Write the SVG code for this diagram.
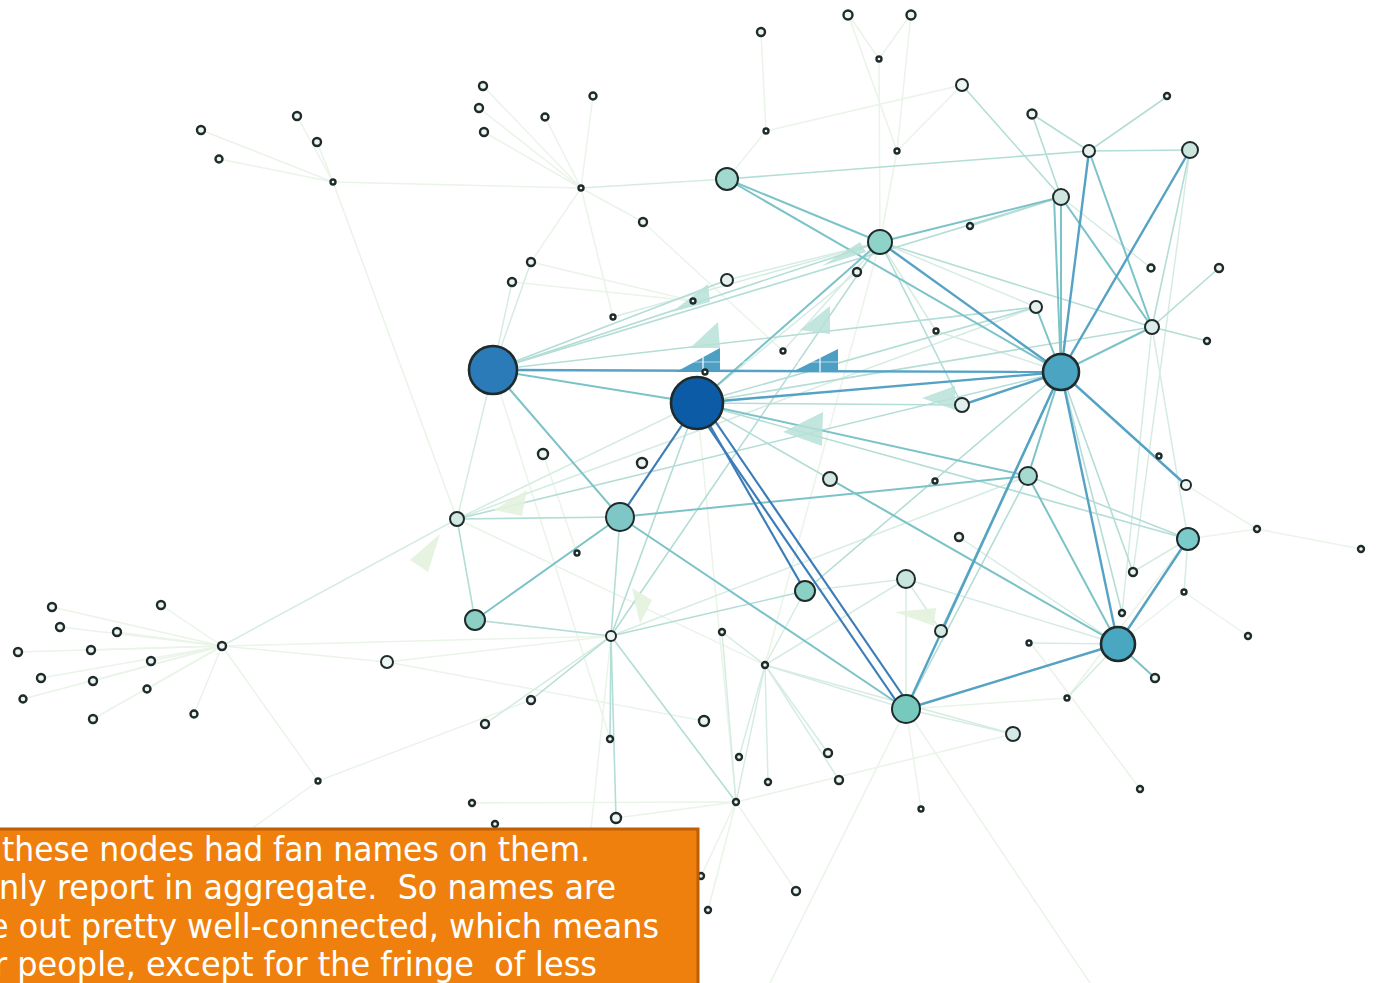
<svg xmlns="http://www.w3.org/2000/svg" width="1378" height="983" viewBox="0 0 1378 983">
<style>
.s1{stroke:#3c7db8;stroke-width:2.2;fill:none}
.s2{stroke:#55a2c4;stroke-width:2.4;fill:none}
.s3{stroke:#7cc3c8;stroke-width:2;fill:none}
.s4{stroke:#b3ddd6;stroke-width:1.6;fill:none}
.s5{stroke:#d6ece3;stroke-width:1.5;fill:none}
.s6{stroke:#eaf4e8;stroke-width:1.5;fill:none}
.ar1{fill:#b7e1d7;opacity:.85}
.ar2{fill:#4d9fc4}
.ar3{fill:#e2f2dd;opacity:.9}
.nd circle{stroke:#1f2b2b;stroke-width:2}
.nd circle.sm{fill:#eef6f4;stroke-width:2.4}
.nd circle.big{stroke-width:2.6}
.txt{fill:#ffffff;font-family:"DejaVu Sans Condensed","DejaVu Sans",Verdana,sans-serif;font-size:33px;white-space:pre}
</style>
<rect x="0" y="0" width="1378" height="983" fill="#ffffff"/>
<g id="connectors">
<line class="s6" x1="333" y1="182" x2="201" y2="130"/>
<line class="s6" x1="333" y1="182" x2="219" y2="159"/>
<line class="s6" x1="333" y1="182" x2="297" y2="116"/>
<line class="s6" x1="333" y1="182" x2="317" y2="142"/>
<line class="s6" x1="333" y1="182" x2="581" y2="188"/>
<line class="s6" x1="333" y1="182" x2="457" y2="519"/>
<line class="s6" x1="581" y1="188" x2="483" y2="86"/>
<line class="s6" x1="581" y1="188" x2="479" y2="108"/>
<line class="s6" x1="581" y1="188" x2="484" y2="132"/>
<line class="s6" x1="581" y1="188" x2="545" y2="117"/>
<line class="s6" x1="581" y1="188" x2="593" y2="96"/>
<line class="s6" x1="581" y1="188" x2="643" y2="222"/>
<line class="s6" x1="581" y1="188" x2="613" y2="317"/>
<line class="s6" x1="581" y1="188" x2="531" y2="262"/>
<line class="s5" x1="581" y1="188" x2="727" y2="179"/>
<line class="s6" x1="531" y1="262" x2="693" y2="301"/>
<line class="s6" x1="512" y1="282" x2="693" y2="301"/>
<line class="s6" x1="643" y1="222" x2="783" y2="351"/>
<line class="s6" x1="761" y1="33" x2="766" y2="131"/>
<line class="s6" x1="766" y1="131" x2="962" y2="85"/>
<line class="s6" x1="766" y1="131" x2="727" y2="179"/>
<line class="s6" x1="848" y1="14" x2="879" y2="59"/>
<line class="s6" x1="911" y1="14" x2="879" y2="59"/>
<line class="s6" x1="879" y1="59" x2="880" y2="242"/>
<line class="s6" x1="848" y1="14" x2="897" y2="151"/>
<line class="s6" x1="911" y1="14" x2="897" y2="151"/>
<line class="s6" x1="897" y1="151" x2="962" y2="85"/>
<line class="s6" x1="897" y1="151" x2="880" y2="242"/>
<line class="s6" x1="222" y1="646" x2="52" y2="607"/>
<line class="s6" x1="222" y1="646" x2="60" y2="627"/>
<line class="s6" x1="222" y1="646" x2="117" y2="632"/>
<line class="s6" x1="222" y1="646" x2="161" y2="605"/>
<line class="s6" x1="222" y1="646" x2="18" y2="652"/>
<line class="s6" x1="222" y1="646" x2="91" y2="650"/>
<line class="s6" x1="222" y1="646" x2="151" y2="661"/>
<line class="s6" x1="222" y1="646" x2="41" y2="678"/>
<line class="s6" x1="222" y1="646" x2="93" y2="681"/>
<line class="s6" x1="222" y1="646" x2="147" y2="689"/>
<line class="s6" x1="222" y1="646" x2="23" y2="699"/>
<line class="s6" x1="222" y1="646" x2="93" y2="719"/>
<line class="s6" x1="222" y1="646" x2="194" y2="714"/>
<line class="s6" x1="222" y1="646" x2="387" y2="662"/>
<line class="s6" x1="222" y1="646" x2="318" y2="781"/>
<line class="s5" x1="222" y1="646" x2="457" y2="519"/>
<line class="s6" x1="222" y1="646" x2="611" y2="636"/>
<line class="s6" x1="318" y1="781" x2="531" y2="700"/>
<line class="s6" x1="318" y1="781" x2="250" y2="830"/>
<line class="s6" x1="387" y1="662" x2="611" y2="636"/>
<line class="s6" x1="387" y1="662" x2="704" y2="721"/>
<line class="s6" x1="736" y1="802" x2="796" y2="891"/>
<line class="s6" x1="736" y1="802" x2="708" y2="910"/>
<line class="s6" x1="736" y1="802" x2="701" y2="876"/>
<line class="s6" x1="736" y1="802" x2="616" y2="818"/>
<line class="s6" x1="736" y1="802" x2="1013" y2="734"/>
<line class="s6" x1="736" y1="802" x2="472" y2="803"/>
<line class="s6" x1="906" y1="709" x2="1090" y2="983"/>
<line class="s6" x1="906" y1="709" x2="770" y2="983"/>
<line class="s6" x1="906" y1="709" x2="921" y2="809"/>
<line class="s6" x1="616" y1="818" x2="585" y2="983"/>
<line class="s6" x1="611" y1="636" x2="575" y2="983"/>
<line class="s6" x1="1030" y1="642" x2="1140" y2="789"/>
<line class="s6" x1="1067" y1="698" x2="906" y2="709"/>
<line class="s6" x1="1186" y1="485" x2="1257" y2="529"/>
<line class="s6" x1="1188" y1="539" x2="1257" y2="529"/>
<line class="s6" x1="1257" y1="529" x2="1361" y2="549"/>
<line class="s6" x1="1184" y1="592" x2="1248" y2="636"/>
<line class="s6" x1="1184" y1="592" x2="1118" y2="644"/>
<line class="s6" x1="1188" y1="539" x2="1067" y2="698"/>
<line class="s6" x1="485" y1="724" x2="611" y2="636"/>
<line class="s6" x1="457" y1="519" x2="765" y2="665"/>
<line class="s6" x1="543" y1="454" x2="577" y2="553"/>
<line class="s6" x1="493" y1="370" x2="610" y2="739"/>
<line class="s6" x1="697" y1="403" x2="736" y2="802"/>
<line class="s6" x1="880" y1="242" x2="765" y2="665"/>
<line class="s6" x1="1061" y1="372" x2="906" y2="709"/>
<line class="s5" x1="531" y1="262" x2="493" y2="370"/>
<line class="s5" x1="512" y1="282" x2="493" y2="370"/>
<line class="s5" x1="613" y1="317" x2="880" y2="242"/>
<line class="s5" x1="783" y1="351" x2="880" y2="242"/>
<line class="s5" x1="857" y1="272" x2="697" y2="403"/>
<line class="s5" x1="936" y1="331" x2="880" y2="242"/>
<line class="s5" x1="936" y1="331" x2="1061" y2="372"/>
<line class="s5" x1="727" y1="280" x2="880" y2="242"/>
<line class="s5" x1="457" y1="519" x2="493" y2="370"/>
<line class="s5" x1="457" y1="519" x2="697" y2="403"/>
<line class="s5" x1="457" y1="519" x2="1036" y2="307"/>
<line class="s5" x1="611" y1="636" x2="1028" y2="476"/>
<line class="s5" x1="611" y1="636" x2="485" y2="724"/>
<line class="s5" x1="805" y1="591" x2="906" y2="579"/>
<line class="s5" x1="906" y1="709" x2="906" y2="579"/>
<line class="s5" x1="906" y1="709" x2="765" y2="665"/>
<line class="s5" x1="906" y1="709" x2="1013" y2="734"/>
<line class="s5" x1="941" y1="631" x2="906" y2="579"/>
<line class="s5" x1="1118" y1="644" x2="1029" y2="643"/>
<line class="s5" x1="1118" y1="644" x2="1067" y2="698"/>
<line class="s5" x1="1118" y1="644" x2="959" y2="537"/>
<line class="s5" x1="1118" y1="644" x2="906" y2="579"/>
<line class="s5" x1="765" y1="665" x2="722" y2="632"/>
<line class="s5" x1="765" y1="665" x2="739" y2="757"/>
<line class="s5" x1="765" y1="665" x2="768" y2="782"/>
<line class="s5" x1="765" y1="665" x2="828" y2="753"/>
<line class="s5" x1="765" y1="665" x2="839" y2="780"/>
<line class="s5" x1="765" y1="665" x2="736" y2="802"/>
<line class="s5" x1="765" y1="665" x2="805" y2="591"/>
<line class="s5" x1="765" y1="665" x2="906" y2="579"/>
<line class="s5" x1="765" y1="665" x2="1013" y2="734"/>
<line class="s5" x1="722" y1="632" x2="736" y2="802"/>
<line class="s5" x1="1190" y1="150" x2="1133" y2="572"/>
<line class="s5" x1="1152" y1="327" x2="1122" y2="613"/>
<line class="s5" x1="1188" y1="539" x2="1133" y2="572"/>
<line class="s5" x1="1151" y1="268" x2="1061" y2="197"/>
<line class="s5" x1="1152" y1="327" x2="1061" y2="197"/>
<line class="s5" x1="1188" y1="539" x2="1184" y2="592"/>
<line class="s5" x1="1152" y1="327" x2="1188" y2="539"/>
<line class="s5" x1="880" y1="242" x2="1036" y2="307"/>
<line class="s4" x1="493" y1="370" x2="880" y2="242"/>
<line class="s4" x1="493" y1="370" x2="1061" y2="197"/>
<line class="s4" x1="493" y1="370" x2="1036" y2="307"/>
<line class="s4" x1="493" y1="370" x2="727" y2="280"/>
<line class="s4" x1="697" y1="403" x2="1036" y2="307"/>
<line class="s4" x1="697" y1="403" x2="1152" y2="327"/>
<line class="s4" x1="697" y1="403" x2="962" y2="405"/>
<line class="s4" x1="697" y1="403" x2="1188" y2="539"/>
<line class="s4" x1="697" y1="403" x2="1118" y2="644"/>
<line class="s4" x1="620" y1="517" x2="457" y2="519"/>
<line class="s4" x1="475" y1="620" x2="457" y2="519"/>
<line class="s4" x1="475" y1="620" x2="611" y2="636"/>
<line class="s4" x1="611" y1="636" x2="880" y2="242"/>
<line class="s4" x1="611" y1="636" x2="620" y2="517"/>
<line class="s4" x1="611" y1="636" x2="805" y2="591"/>
<line class="s4" x1="611" y1="636" x2="531" y2="700"/>
<line class="s4" x1="611" y1="636" x2="610" y2="739"/>
<line class="s4" x1="611" y1="636" x2="616" y2="818"/>
<line class="s4" x1="611" y1="636" x2="736" y2="802"/>
<line class="s4" x1="611" y1="636" x2="697" y2="403"/>
<line class="s4" x1="727" y1="179" x2="1089" y2="151"/>
<line class="s4" x1="1089" y1="151" x2="1190" y2="150"/>
<line class="s4" x1="1089" y1="151" x2="1032" y2="114"/>
<line class="s4" x1="1089" y1="151" x2="1168" y2="96"/>
<line class="s4" x1="1032" y1="114" x2="1061" y2="197"/>
<line class="s4" x1="962" y1="85" x2="1061" y2="197"/>
<line class="s4" x1="970" y1="226" x2="1061" y2="197"/>
<line class="s4" x1="1190" y1="150" x2="1152" y2="327"/>
<line class="s4" x1="1152" y1="327" x2="1219" y2="268"/>
<line class="s4" x1="1152" y1="327" x2="1207" y2="341"/>
<line class="s4" x1="1028" y1="476" x2="1188" y2="539"/>
<line class="s4" x1="1028" y1="476" x2="906" y2="709"/>
<line class="s4" x1="880" y1="242" x2="962" y2="405"/>
<line class="s4" x1="880" y1="242" x2="1152" y2="327"/>
<line class="s4" x1="457" y1="519" x2="1061" y2="372"/>
<line class="s4" x1="1061" y1="372" x2="805" y2="591"/>
<line class="s4" x1="1061" y1="372" x2="1133" y2="572"/>
<line class="s4" x1="1061" y1="372" x2="1122" y2="613"/>
<line class="s3" x1="493" y1="370" x2="697" y2="403"/>
<line class="s3" x1="493" y1="370" x2="620" y2="517"/>
<line class="s3" x1="727" y1="179" x2="880" y2="242"/>
<line class="s3" x1="727" y1="179" x2="1061" y2="372"/>
<line class="s3" x1="1061" y1="372" x2="1061" y2="197"/>
<line class="s3" x1="1061" y1="372" x2="1054" y2="198"/>
<line class="s3" x1="1061" y1="372" x2="1036" y2="307"/>
<line class="s3" x1="1061" y1="372" x2="1152" y2="327"/>
<line class="s3" x1="1061" y1="372" x2="1028" y2="476"/>
<line class="s3" x1="1061" y1="372" x2="941" y2="631"/>
<line class="s3" x1="620" y1="517" x2="1028" y2="476"/>
<line class="s3" x1="620" y1="517" x2="906" y2="709"/>
<line class="s3" x1="620" y1="517" x2="475" y2="620"/>
<line class="s3" x1="1118" y1="644" x2="830" y2="479"/>
<line class="s3" x1="1118" y1="644" x2="1028" y2="476"/>
<line class="s3" x1="1118" y1="644" x2="1155" y2="678"/>
<line class="s3" x1="1061" y1="197" x2="1152" y2="327"/>
<line class="s3" x1="1089" y1="151" x2="1152" y2="327"/>
<line class="s3" x1="697" y1="403" x2="880" y2="242"/>
<line class="s3" x1="697" y1="403" x2="1028" y2="476"/>
<line class="s3" x1="880" y1="242" x2="1061" y2="197"/>
<line class="s2" x1="493" y1="370" x2="1061" y2="372"/>
<line class="s2" x1="697" y1="403" x2="1061" y2="372"/>
<line class="s2" x1="1061" y1="372" x2="1190" y2="150"/>
<line class="s2" x1="1061" y1="372" x2="1089" y2="151"/>
<line class="s2" x1="1061" y1="372" x2="1118" y2="644"/>
<line class="s2" x1="1061" y1="372" x2="880" y2="242"/>
<line class="s2" x1="1061" y1="372" x2="1186" y2="485"/>
<line class="s2" x1="1061" y1="372" x2="906" y2="709"/>
<line class="s2" x1="1061" y1="372" x2="962" y2="405"/>
<line class="s2" x1="1118" y1="644" x2="1188" y2="539"/>
<line class="s2" x1="1118" y1="644" x2="906" y2="709"/>
<line class="s1" x1="694" y1="406" x2="903" y2="711"/>
<line class="s1" x1="702" y1="402" x2="910" y2="706"/>
<line class="s1" x1="697" y1="403" x2="805" y2="591"/>
<line class="s1" x1="697" y1="403" x2="620" y2="517"/>
<polygon class="ar1" points="822,266 860,242 866,252"/>
<polygon class="ar1" points="672,312 708,284 710,302"/>
<polygon class="ar1" points="690,348 718,322 720,348"/>
<polygon class="ar1" points="800,330 830,306 830,334"/>
<polygon class="ar1" points="783,432 823,412 822,446"/>
<polygon class="ar1" points="922,398 955,386 955,410"/>
<polygon class="ar2" points="676,372 720,348 720,372"/>
<polygon class="ar2" points="792,372 838,349 838,372"/>
<polygon class="ar3" points="494,510 527,490 522,516"/>
<polygon class="ar3" points="410,560 440,534 428,572"/>
<polygon class="ar3" points="632,588 652,600 640,624"/>
<polygon class="ar3" points="895,612 936,608 934,626"/>
<line x1="703" y1="348" x2="703" y2="372" stroke="#ffffff" stroke-width="1.5" opacity=".8"/>
<line x1="820" y1="352" x2="820" y2="372" stroke="#ffffff" stroke-width="1.5" opacity=".8"/>
<line x1="676" y1="362" x2="838" y2="362" stroke="#ffffff" stroke-width="1" opacity=".6"/>
</g>
<g id="nodes" class="nd">
<g id="n-A"><circle class="big" cx="493" cy="370" r="24" fill="#2b7bb9"/></g>
<g id="n-B"><circle class="big" cx="697" cy="403" r="26" fill="#0c5ba6"/></g>
<g id="n-C"><circle class="big" cx="1061" cy="372" r="18" fill="#4ca4c3"/></g>
<g id="n-D"><circle class="big" cx="1118" cy="644" r="17" fill="#4aa7c1"/></g>
<g id="n5"><circle cx="727" cy="179" r="11" fill="#a2d9ce"/></g>
<g id="n6"><circle cx="880" cy="242" r="12" fill="#8ed3c7"/></g>
<g id="n7"><circle cx="620" cy="517" r="14" fill="#7fc7c6"/></g>
<g id="n8"><circle cx="906" cy="709" r="14" fill="#77c9be"/></g>
<g id="n9"><circle cx="1188" cy="539" r="11" fill="#7ccbcb"/></g>
<g id="n10"><circle cx="475" cy="620" r="10" fill="#8ecfc3"/></g>
<g id="n11"><circle cx="805" cy="591" r="10" fill="#8ad0c4"/></g>
<g id="n12"><circle cx="1028" cy="476" r="9" fill="#a6d9cf"/></g>
<g id="n13"><circle cx="1061" cy="197" r="8" fill="#cfe6e0"/></g>
<g id="n14"><circle cx="1190" cy="150" r="8" fill="#cde5df"/></g>
<g id="n15"><circle cx="1152" cy="327" r="7" fill="#dcece8"/></g>
<g id="n16"><circle cx="906" cy="579" r="9" fill="#c8e6dd"/></g>
<g id="n17"><circle cx="457" cy="519" r="7" fill="#d2e8e2"/></g>
<g id="n18"><circle cx="962" cy="405" r="7" fill="#e2efec"/></g>
<g id="n19"><circle cx="830" cy="479" r="7" fill="#d4e9e4"/></g>
<g id="n20"><circle cx="1013" cy="734" r="7" fill="#d6eae5"/></g>
<g id="n21"><circle cx="941" cy="631" r="6" fill="#d6eae5"/></g>
<g id="n22"><circle cx="1036" cy="307" r="6" fill="#e6f1ee"/></g>
<g id="n23"><circle cx="727" cy="280" r="6" fill="#e6f1ee"/></g>
<g id="n24"><circle cx="962" cy="85" r="6" fill="#eef6f4"/></g>
<g id="n25"><circle cx="1089" cy="151" r="6" fill="#e6f1ee"/></g>
<g id="n26"><circle cx="387" cy="662" r="6" fill="#eef6f4"/></g>
<g id="n27"><circle cx="1186" cy="485" r="5" fill="#eef6f4"/></g>
<g id="n28"><circle cx="611" cy="636" r="5" fill="#eef6f4"/></g>
<g id="n29"><circle cx="222" cy="646" r="4" class="sm"/></g>
<g id="n30"><circle cx="52" cy="607" r="4" class="sm"/></g>
<g id="n31"><circle cx="60" cy="627" r="4" class="sm"/></g>
<g id="n32"><circle cx="117" cy="632" r="4" class="sm"/></g>
<g id="n33"><circle cx="161" cy="605" r="4" class="sm"/></g>
<g id="n34"><circle cx="18" cy="652" r="4" class="sm"/></g>
<g id="n35"><circle cx="91" cy="650" r="4" class="sm"/></g>
<g id="n36"><circle cx="151" cy="661" r="4" class="sm"/></g>
<g id="n37"><circle cx="41" cy="678" r="4" class="sm"/></g>
<g id="n38"><circle cx="93" cy="681" r="4" class="sm"/></g>
<g id="n39"><circle cx="147" cy="689" r="3.5" class="sm"/></g>
<g id="n40"><circle cx="23" cy="699" r="3.5" class="sm"/></g>
<g id="n41"><circle cx="93" cy="719" r="4" class="sm"/></g>
<g id="n42"><circle cx="194" cy="714" r="3.5" class="sm"/></g>
<g id="n43"><circle cx="318" cy="781" r="2.5" class="sm"/></g>
<g id="n44"><circle cx="201" cy="130" r="4" class="sm"/></g>
<g id="n45"><circle cx="219" cy="159" r="3.5" class="sm"/></g>
<g id="n46"><circle cx="297" cy="116" r="4" class="sm"/></g>
<g id="n47"><circle cx="317" cy="142" r="4" class="sm"/></g>
<g id="n48"><circle cx="333" cy="182" r="2.5" class="sm"/></g>
<g id="n49"><circle cx="483" cy="86" r="4" class="sm"/></g>
<g id="n50"><circle cx="479" cy="108" r="4" class="sm"/></g>
<g id="n51"><circle cx="484" cy="132" r="4" class="sm"/></g>
<g id="n52"><circle cx="545" cy="117" r="3.5" class="sm"/></g>
<g id="n53"><circle cx="593" cy="96" r="3.5" class="sm"/></g>
<g id="n54"><circle cx="581" cy="188" r="2.5" class="sm"/></g>
<g id="n55"><circle cx="643" cy="222" r="4" class="sm"/></g>
<g id="n56"><circle cx="531" cy="262" r="4" class="sm"/></g>
<g id="n57"><circle cx="512" cy="282" r="4" class="sm"/></g>
<g id="n58"><circle cx="613" cy="317" r="2.5" class="sm"/></g>
<g id="n59"><circle cx="693" cy="301" r="2.5" class="sm"/></g>
<g id="n60"><circle cx="761" cy="32" r="4" class="sm"/></g>
<g id="n61"><circle cx="848" cy="15" r="4.5" class="sm"/></g>
<g id="n62"><circle cx="911" cy="15" r="4.5" class="sm"/></g>
<g id="n63"><circle cx="879" cy="59" r="2.5" class="sm"/></g>
<g id="n64"><circle cx="766" cy="131" r="2.5" class="sm"/></g>
<g id="n65"><circle cx="897" cy="151" r="2.5" class="sm"/></g>
<g id="n66"><circle cx="970" cy="226" r="3" class="sm"/></g>
<g id="n67"><circle cx="1032" cy="114" r="4.5" class="sm"/></g>
<g id="n68"><circle cx="1167" cy="96" r="3" class="sm"/></g>
<g id="n69"><circle cx="857" cy="272" r="4" class="sm"/></g>
<g id="n70"><circle cx="783" cy="351" r="2.5" class="sm"/></g>
<g id="n71"><circle cx="705" cy="372" r="2.5" class="sm"/></g>
<g id="n72"><circle cx="936" cy="331" r="2.5" class="sm"/></g>
<g id="n73"><circle cx="1151" cy="268" r="3.5" class="sm"/></g>
<g id="n74"><circle cx="1219" cy="268" r="4" class="sm"/></g>
<g id="n75"><circle cx="1207" cy="341" r="3" class="sm"/></g>
<g id="n76"><circle cx="1159" cy="456" r="2.5" class="sm"/></g>
<g id="n77"><circle cx="1257" cy="529" r="3" class="sm"/></g>
<g id="n78"><circle cx="1361" cy="549" r="3" class="sm"/></g>
<g id="n79"><circle cx="1133" cy="572" r="4" class="sm"/></g>
<g id="n80"><circle cx="1184" cy="592" r="2.5" class="sm"/></g>
<g id="n81"><circle cx="1248" cy="636" r="3" class="sm"/></g>
<g id="n82"><circle cx="1122" cy="613" r="3" class="sm"/></g>
<g id="n83"><circle cx="1155" cy="678" r="4" class="sm"/></g>
<g id="n84"><circle cx="1140" cy="789" r="3" class="sm"/></g>
<g id="n85"><circle cx="935" cy="481" r="2.5" class="sm"/></g>
<g id="n86"><circle cx="959" cy="537" r="4" class="sm"/></g>
<g id="n87"><circle cx="543" cy="454" r="5" class="sm"/></g>
<g id="n88"><circle cx="642" cy="463" r="5" class="sm"/></g>
<g id="n89"><circle cx="577" cy="553" r="2.5" class="sm"/></g>
<g id="n90"><circle cx="722" cy="632" r="3" class="sm"/></g>
<g id="n91"><circle cx="765" cy="665" r="3" class="sm"/></g>
<g id="n92"><circle cx="1029" cy="643" r="2.5" class="sm"/></g>
<g id="n93"><circle cx="1067" cy="698" r="2.5" class="sm"/></g>
<g id="n94"><circle cx="921" cy="809" r="2.5" class="sm"/></g>
<g id="n95"><circle cx="531" cy="700" r="4" class="sm"/></g>
<g id="n96"><circle cx="485" cy="724" r="4" class="sm"/></g>
<g id="n97"><circle cx="610" cy="739" r="3" class="sm"/></g>
<g id="n98"><circle cx="704" cy="721" r="5" class="sm"/></g>
<g id="n99"><circle cx="739" cy="757" r="3" class="sm"/></g>
<g id="n100"><circle cx="768" cy="782" r="3" class="sm"/></g>
<g id="n101"><circle cx="828" cy="753" r="4" class="sm"/></g>
<g id="n102"><circle cx="839" cy="780" r="4" class="sm"/></g>
<g id="n103"><circle cx="736" cy="802" r="3" class="sm"/></g>
<g id="n104"><circle cx="616" cy="818" r="5" class="sm"/></g>
<g id="n105"><circle cx="472" cy="803" r="3" class="sm"/></g>
<g id="n106"><circle cx="495" cy="824" r="3" class="sm"/></g>
<g id="n107"><circle cx="796" cy="891" r="4" class="sm"/></g>
<g id="n108"><circle cx="708" cy="910" r="3" class="sm"/></g>
<g id="n109"><circle cx="701" cy="876" r="3" class="sm"/></g>
</g>
<g id="note">
<rect x="-6" y="829" width="704" height="170" fill="#ef800d" stroke="#bd5e08" stroke-width="3"/>
<text class="txt" x="2" y="861" textLength="588" lengthAdjust="spacingAndGlyphs" xml:space="preserve">these nodes had fan names on them.</text>
<text class="txt" x="-1" y="899" textLength="617" lengthAdjust="spacingAndGlyphs" xml:space="preserve">nly report in aggregate.  So names are</text>
<text class="txt" x="-11" y="938" textLength="670" lengthAdjust="spacingAndGlyphs" xml:space="preserve">e out pretty well-connected, which means</text>
<text class="txt" x="-6" y="976" textLength="603" lengthAdjust="spacingAndGlyphs" xml:space="preserve">r people, except for the fringe  of less</text>
</g>
</svg>
